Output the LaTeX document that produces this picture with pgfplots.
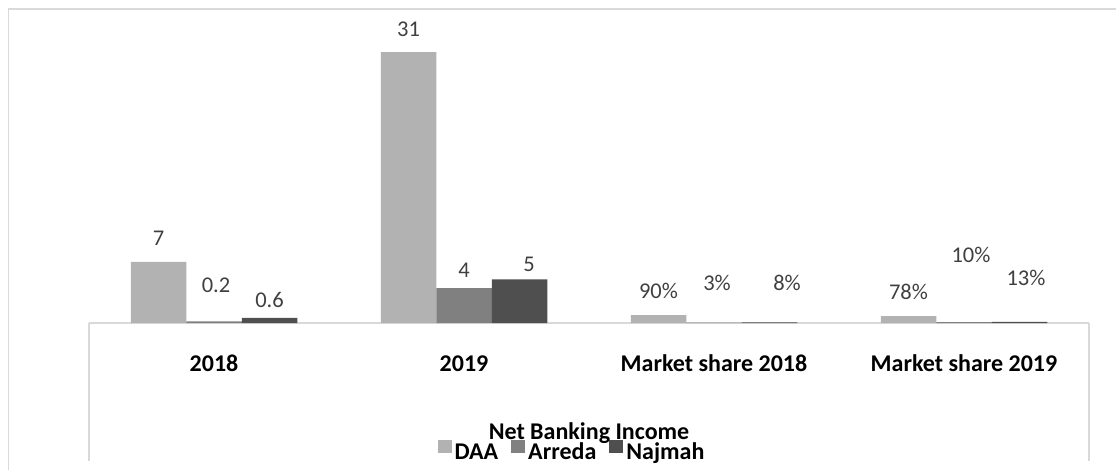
\documentclass[border=0pt]{standalone}
\usepackage{fontspec}
\setmainfont{Carlito}
\usepackage{pgfplots}
\pgfplotsset{compat=1.18}
\definecolor{daa}{HTML}{B2B2B2}
\definecolor{arr}{HTML}{808080}
\definecolor{naj}{HTML}{4F4F4F}
\definecolor{framec}{HTML}{D9D9D9}
\definecolor{lab}{HTML}{404040}
\begin{document}
\begin{tikzpicture}
\useasboundingbox (0pt,0pt) rectangle (1116pt,-470pt);
\draw[framec, line width=1.5pt] (8.5pt,-480pt) -- (8.5pt,-9pt) -- (1130pt,-9pt);
\draw[framec, line width=1.5pt] (89pt,-323pt) -- (89pt,-461pt);
\draw[framec, line width=1.5pt] (1089pt,-323pt) -- (1089pt,-461pt);
\begin{axis}[
  at={(89pt,-323pt)}, anchor=south west,
  scale only axis, width=1000pt, height=305.9pt,
  xmin=-0.5, xmax=3.5, ymin=0, ymax=35,
  hide y axis,
  axis x line*=bottom,
  x axis line style={draw=framec, line width=1.5pt, -},
  xtick={0,1,2,3},
  xticklabels={2018,2019,Market share 2018,Market share 2019},
  major tick length=0pt,
  xticklabel style={anchor=base, yshift=-48pt, font=\bfseries\fontsize{24}{28}\selectfont, text=black},
  clip=false,
  legend columns=3,
  legend style={at={(0.4835,-0.417)}, anchor=center, draw=none, fill=none,
    font=\bfseries\fontsize{24}{28}\selectfont, column sep=0pt,
    nodes={inner xsep=3pt, inner ysep=0pt},
    /tikz/every even column/.append style={column sep=10pt}},
  legend image code/.code={\fill[#1] (0pt,-1pt) rectangle (14pt,12pt);},
]
\addplot[ybar, bar width=55.5pt, bar shift=-55.5pt, fill=daa, draw=none] coordinates {(0,7) (1,31) (2,0.9) (3,0.78)};
\addlegendentry{DAA}
\addplot[ybar, bar width=55.5pt, bar shift=0pt, fill=arr, draw=none] coordinates {(0,0.2) (1,4) (2,0.03) (3,0.10)};
\addlegendentry{Arreda}
\addplot[ybar, bar width=55.5pt, bar shift=55.5pt, fill=naj, draw=none] coordinates {(0,0.6) (1,5) (2,0.08) (3,0.13)};
\addlegendentry{Najmah}
\addplot[draw=none, mark=none, forget plot, nodes near coords, point meta=explicit symbolic,
  nodes near coords style={anchor=center, font=\fontsize{22.5}{27}\selectfont, text=lab}]
  coordinates {
  (-0.222,9.73) [7]
  (0.008,4.35) [0.2]
  (0.222,2.63) [0.6]
  (0.778,33.64) [31]
  (1.0,6.06) [4]
  (1.26,6.75) [5]
  (1.778,3.66) [90\%]
  (2.012,4.58) [3\%]
  (2.292,4.58) [8\%]
  (2.778,3.55) [78\%]
  (3.028,7.78) [10\%]
  (3.248,5.15) [13\%]
  };
\end{axis}
\node[anchor=base, font=\bfseries\fontsize{24}{28}\selectfont] at (589pt,-439pt) {Net Banking Income};
\end{tikzpicture}
\end{document}
